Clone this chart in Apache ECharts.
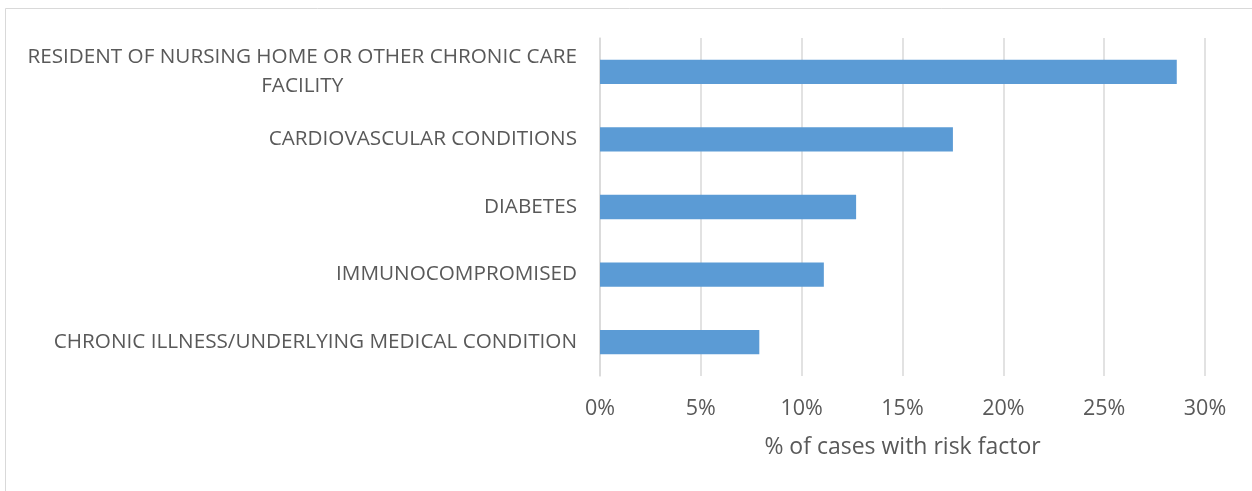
<!DOCTYPE html>
<html>
<head>
<meta charset="utf-8">
<script src="https://cdn.jsdelivr.net/npm/echarts@6/dist/echarts.min.js"></script>
<style>
  html, body { margin: 0; padding: 0; background: #fff; }
  #chart { width: 1252px; height: 491px; }
</style>
</head>
<body>
<div id="chart"></div>
<script>
  // categories listed bottom to top (category axis starts at the bottom)
  const riskFactors = [
    'CHRONIC ILLNESS/UNDERLYING MEDICAL CONDITION',
    'IMMUNOCOMPROMISED',
    'DIABETES',
    'CARDIOVASCULAR CONDITIONS',
    'RESIDENT OF NURSING HOME OR OTHER CHRONIC CARE\nFACILITY'
  ];
  const casePercent = [7.9, 11.1, 12.7, 17.5, 28.6];
  const axisTitle = '% of cases with risk factor';

  const chart = echarts.init(document.getElementById('chart'));
  const textColor = '#595959';
  const fontName = 'Open Sans';

  chart.setOption({
    animation: false,
    backgroundColor: '#fff',
    graphic: [{
      type: 'rect',
      shape: {x: 5.5, y: 8.5, width: 1400, height: 600},
      style: {fill: 'none', stroke: '#d9d9d9', lineWidth: 1}
    }],
    grid: {
      left: 600,
      right: 47,
      top: 38,
      bottom: 115
    },
    xAxis: {
      type: 'value',
      min: 0,
      max: 30,
      interval: 5,
      axisLine: {show: false},
      axisTick: {show: false},
      axisLabel: {
        formatter: '{value}%',
        color: textColor,
        fontFamily: fontName,
        fontSize: 21.5,
        margin: 22
      },
      splitLine: {lineStyle: {color: '#d9d9d9', width: 1.5}},
      name: axisTitle,
      nameLocation: 'middle',
      nameGap: 60,
      nameTextStyle: {color: textColor, fontFamily: fontName, fontSize: 23}
    },
    yAxis: {
      type: 'category',
      data: riskFactors,
      axisLine: {show: true, lineStyle: {color: '#d9d9d9', width: 1.5}},
      axisTick: {show: false},
      axisLabel: {
        margin: 23,
        formatter: v => v.split('\n').map(s => '{c|' + s + '}').join('\n'),
        rich: {
          c: {
            align: 'center',
            color: textColor,
            fontFamily: fontName,
            fontSize: 20.7,
            lineHeight: 29
          }
        }
      }
    },
    series: [{
      type: 'bar',
      data: casePercent,
      barWidth: '36%',
      itemStyle: {color: '#5b9bd5'}
    }]
  });
</script>
</body>
</html>
